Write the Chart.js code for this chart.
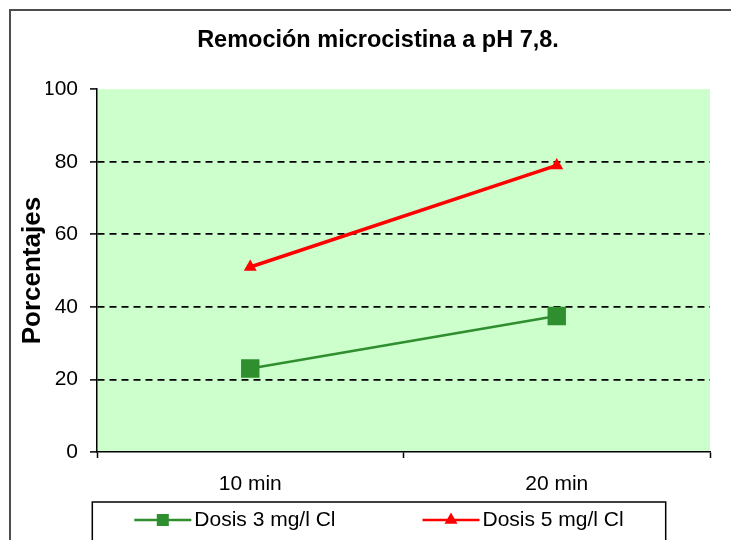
<!DOCTYPE html>
<html>
<head>
<meta charset="utf-8">
<title>Remoción microcistina a pH 7,8.</title>
<script src="https://cdn.jsdelivr.net/npm/chart.js@4.4.0/dist/chart.umd.min.js"></script>
<style>
  html, body { margin: 0; padding: 0; background: #fff; overflow: hidden; width: 731px; height: 540px; }
  #frame { position: absolute; left: 9px; top: 9px; width: 760px; height: 600px; border: 2px solid #4d4d4d; }
  #removalChart { position: absolute; left: 13px; top: 0; }
</style>
</head>
<body>
<div id="frame"></div>
<canvas id="removalChart" width="732" height="540"></canvas>
<script>
// data
const chartTitle = "Remoción microcistina a pH 7,8.";
const timeLabels = ["10 min", "20 min"];
const seriesNames = ["Dosis 3 mg/l Cl", "Dosis 5 mg/l Cl"];
const dose3 = [23, 37.5];
const dose5 = [51, 79];
const yMin = 0, yMax = 100, yStep = 20;

const fontFamily = '"Liberation Sans", Arial, sans-serif';
Chart.defaults.color = "#000";
Chart.defaults.font.family = fontFamily;

// light green plot area
const plotBackground = {
  id: "plotBackground",
  beforeDraw(chart) {
    let a = chart.chartArea;
    let ctx = chart.ctx;
    ctx.save();
    ctx.fillStyle = "#ccffcc";
    ctx.fillRect(a.left, a.top, a.right - a.left, a.bottom - a.top);
    ctx.restore();
  }
};

// framed legend under the axis, line sample with marker in the middle
const boxLegend = {
  id: "boxLegend",
  afterDraw(chart) {
    let ctx = chart.ctx;
    let sets = chart.data.datasets;
    let sampleW = 57, gap = 3, spacing = 87, margin = 42;

    ctx.save();
    ctx.font = "21px " + fontFamily;
    let widths = sets.map(ds => sampleW + gap + ctx.measureText(ds.label).width);
    let total = widths.reduce((a, b) => a + b, 0) + spacing * (sets.length - 1);
    let x = chart.width / 2 - total / 2;
    let top = chart.scales.x.bottom + 2;
    let y = top + 18;

    ctx.strokeStyle = "#000";
    ctx.lineWidth = 1.5;
    ctx.strokeRect(x - margin, top, total + margin * 2, chart.height);

    sets.forEach(function(ds, i) {
      ctx.strokeStyle = ds.borderColor;
      ctx.lineWidth = 2.5;
      ctx.beginPath();
      ctx.moveTo(x, y);
      ctx.lineTo(x + sampleW, y);
      ctx.stroke();

      ctx.fillStyle = ds.backgroundColor;
      Chart.helpers.drawPoint(ctx, {
        pointStyle: ds.pointStyle,
        radius: Math.min(ds.pointRadius, 8.5),
        rotation: 0,
        borderWidth: 0
      }, x + sampleW / 2, y);

      ctx.fillStyle = "#000";
      ctx.textAlign = "left";
      ctx.textBaseline = "middle";
      ctx.fillText(ds.label, x + sampleW + gap, y);
      x += widths[i] + spacing;
    });
    ctx.restore();
  }
};

let ctx = document.getElementById("removalChart").getContext("2d");

let chart = new Chart(ctx, {
  type: "line",
  data: {
    labels: timeLabels,
    datasets: [{
      label: seriesNames[0],
      data: dose3,
      borderColor: "#2f8f2f",
      backgroundColor: "#2f8f2f",
      borderWidth: 2.5,
      pointStyle: "rect",
      pointRadius: 13,
      pointBorderWidth: 0
    }, {
      label: seriesNames[1],
      data: dose5,
      borderColor: "#ff0000",
      backgroundColor: "#ff0000",
      borderWidth: 3.5,
      pointStyle: "triangle",
      pointRadius: 7.5,
      pointBorderWidth: 0
    }]
  },
  options: {
    responsive: false,
    animation: false,
    // left padding pushes the centred title to the right; the y axis width makes up for it
    layout: { padding: { left: 33, right: 35, top: 0, bottom: 40 } },
    plugins: {
      legend: { display: false },
      tooltip: { enabled: false },
      title: {
        display: true,
        text: chartTitle,
        color: "#000",
        font: { size: 23.5, weight: "bold" },
        padding: { top: 26, bottom: 35 }
      }
    },
    scales: {
      x: {
        offset: true,
        grid: { offset: true, drawOnChartArea: false, tickLength: 6, tickColor: "#000", tickWidth: 1.5 },
        border: { color: "#000", width: 1.5 },
        ticks: { color: "#000", font: { size: 21 }, padding: 14 },
        afterFit(scale) { scale.height = 48; }
      },
      y: {
        min: yMin,
        max: yMax,
        ticks: { stepSize: yStep, color: "#000", font: { size: 21 }, padding: 12 },
        grid: {
          // dashed lines only between the ends of the axis
          color: c => (c.tick && (c.tick.value === yMin || c.tick.value === yMax)) ? "rgba(0,0,0,0)" : "#000",
          lineWidth: 1.8,
          tickColor: "#000",
          tickWidth: 1.5,
          tickLength: 7,
          tickBorderDash: []
        },
        border: { color: "#000", width: 1.5, dash: [7, 5] },
        title: {
          display: true,
          text: "Porcentajes",
          color: "#000",
          font: { size: 26, weight: "bold" },
          // title sits in the left padding, outside the narrowed axis box
          padding: { top: -28.6, bottom: 0 }
        },
        afterFit(scale) { scale.width = 51; }
      }
    }
  },
  plugins: [plotBackground, boxLegend]
});
</script>
</body>
</html>
